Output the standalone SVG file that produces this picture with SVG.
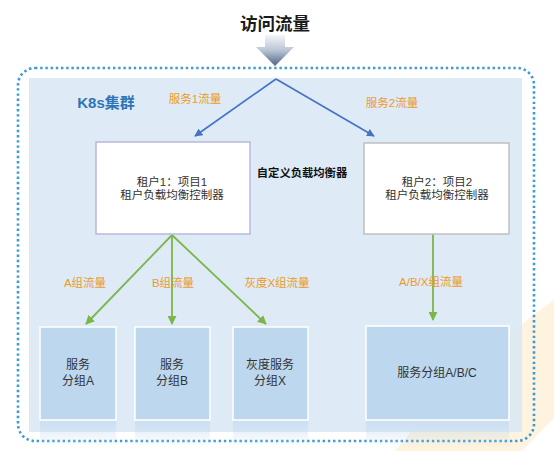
<svg xmlns="http://www.w3.org/2000/svg" width="554" height="451" viewBox="0 0 554 451">
<defs>
<linearGradient id="gArrow" x1="0" y1="0" x2="0" y2="1">
<stop offset="0" stop-color="#f4f6f9"/>
<stop offset="0.5" stop-color="#b8c4d4"/>
<stop offset="1" stop-color="#4d6382"/>
</linearGradient>
<linearGradient id="gRefl" x1="0" y1="0" x2="0" y2="1">
<stop offset="0" stop-color="#bdd7ee" stop-opacity="0.55"/>
<stop offset="1" stop-color="#bdd7ee" stop-opacity="0"/>
</linearGradient>
<marker id="mBlue" viewBox="0 0 10 10" refX="9" refY="5" markerWidth="5" markerHeight="5" orient="auto" markerUnits="strokeWidth">
<path d="M0,0 L10,5 L0,10 Z" fill="#4472c4"/>
</marker>
<marker id="mGreen" viewBox="0 0 10 10" refX="9" refY="5" markerWidth="5" markerHeight="5" orient="auto" markerUnits="strokeWidth">
<path d="M0,0 L10,5 L0,10 Z" fill="#7ab648"/>
</marker>
</defs>
<style>
text{font-family:"Liberation Sans","Noto Sans CJK SC",sans-serif;text-anchor:middle}
.lbl{font-size:11.5px;fill:#ed9a25}
.box{font-size:11.5px;fill:#333}
.bot{font-size:12px;fill:#333}
.grp{fill:#bdd7ee;stroke:#ffffff;stroke-width:1.5}
.blue{stroke:#4472c4;stroke-width:1.6;fill:none;marker-end:url(#mBlue)}
.green{stroke:#7ab648;stroke-width:1.8;fill:none;marker-end:url(#mGreen)}
</style>
<rect width="554" height="451" fill="#ffffff"/>
<!-- decorative yellow band -->
<path d="M554,300 Q470,360 395,451 L522,451 Q540,432 554,418 Z" fill="#fdf3de"/>
<!-- cluster background -->
<rect id="cluster-bg" x="29" y="78" width="493" height="354" fill="#dae7f5" opacity="0.88"/>
<rect id="cluster-border" x="18" y="68" width="516" height="373" rx="17" ry="17" fill="none" stroke="#3d9ad9" stroke-width="2.6" stroke-dasharray="2.4 2.8"/>
<!-- title and big arrow -->
<g id="title">
<text x="275" y="30" font-size="17.5" font-weight="bold" fill="#1a1a1a">访问流量</text>
<path d="M265,35 L285,35 L285,47 L294,47 L275,66 L256,47 L265,47 Z" fill="url(#gArrow)"/>
</g>
<text x="106" y="108" font-size="15" font-weight="bold" fill="#2e75b6">K8s集群</text>
<g id="connectors">
<line class="blue" x1="276" y1="79" x2="195" y2="136"/>
<line class="blue" x1="276" y1="79" x2="374" y2="136"/>
<line class="green" x1="172" y1="235" x2="86" y2="324"/>
<line class="green" x1="172" y1="235" x2="172" y2="324"/>
<line class="green" x1="172" y1="235" x2="266" y2="324"/>
<line class="green" x1="433" y1="234" x2="433" y2="320"/>
<text class="lbl" x="195" y="103">服务1流量</text>
<text class="lbl" x="392" y="107">服务2流量</text>
<text class="lbl" x="85" y="287">A组流量</text>
<text class="lbl" x="173" y="287">B组流量</text>
<text class="lbl" x="277" y="287">灰度X组流量</text>
<text class="lbl" x="431" y="286">A/B/X组流量</text>
</g>
<g id="lb1">
<rect x="96" y="142" width="154" height="92" fill="#ffffff" stroke="#b8b8dc" stroke-width="1.5"/>
<text class="box" x="172" y="186">租户1：项目1</text>
<text class="box" x="172" y="198.5">租户负载均衡控制器</text>
</g>
<text x="302" y="177" font-size="11.3" font-weight="bold" fill="#111">自定义负载均衡器</text>
<g id="lb2">
<rect x="364" y="143" width="145" height="91" fill="#ffffff" stroke="#c0c0c0" stroke-width="1.5"/>
<text class="box" x="437" y="186">租户2：项目2</text>
<text class="box" x="437" y="199">租户负载均衡控制器</text>
</g>
<g id="grpA">
<rect class="grp" x="40" y="327" width="76" height="93"/>
<rect x="40" y="421" width="76" height="26" fill="url(#gRefl)"/>
<text class="bot" x="78" y="369">服务</text>
<text class="bot" x="78" y="385">分组A</text>
</g>
<g id="grpB">
<rect class="grp" x="135" y="327" width="75" height="93"/>
<rect x="135" y="421" width="75" height="26" fill="url(#gRefl)"/>
<text class="bot" x="172" y="369">服务</text>
<text class="bot" x="172" y="385">分组B</text>
</g>
<g id="grpX">
<rect class="grp" x="233" y="327" width="75" height="93"/>
<rect x="233" y="421" width="75" height="26" fill="url(#gRefl)"/>
<text class="bot" x="270" y="369">灰度服务</text>
<text class="bot" x="270" y="385">分组X</text>
</g>
<g id="grpABC">
<rect class="grp" x="366" y="326" width="143" height="94"/>
<rect x="366" y="421" width="143" height="26" fill="url(#gRefl)"/>
<text class="bot" x="437" y="377">服务分组A/B/C</text>
</g>
</svg>
